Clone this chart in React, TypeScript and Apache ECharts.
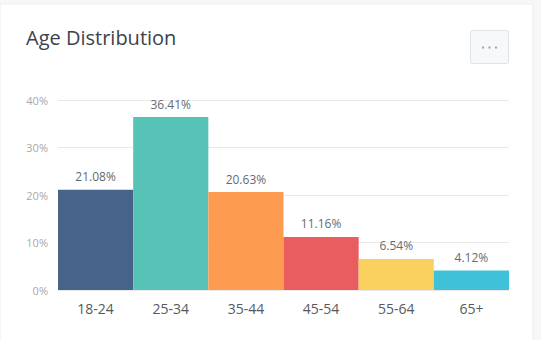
import React, { useEffect, useRef } from "react";
import * as echarts from "echarts";

const categories = ["18-24", "25-34", "35-44", "45-54", "55-64", "65+"];
const values = [21.08, 36.41, 20.63, 11.16, 6.54, 4.12];
const barColors = ["#46648a", "#57c2b6", "#fd9c50", "#e95d61", "#fad05f", "#3fc1da"];
const yTicks = [0, 10, 20, 30, 40];

export default function App() {
  const ref = useRef<HTMLDivElement>(null);
  useEffect(() => {
    if (!ref.current) return;
    const chart = echarts.init(ref.current, null, { renderer: "svg" });
    const dot = (x: number) => ({
      type: "circle",
      shape: { cx: x, cy: 47.5, r: 1.2 },
      style: { fill: "#a3a9b1" },
      silent: true,
    });
    chart.setOption({
      animation: false,
      backgroundColor: "#f7f7f7",
      graphic: [
        {
          type: "rect",
          z: -10,
          shape: { x: 0, y: 4, width: 533, height: 340 },
          style: { fill: "#ffffff", stroke: "#ececec", lineWidth: 1 },
          silent: true,
        },
        {
          type: "rect",
          shape: { x: 470.5, y: 30.5, width: 38, height: 33, r: 2 },
          style: { fill: "#f7f8fa", stroke: "#dfe2e6", lineWidth: 1 },
          silent: true,
        },
        dot(483),
        dot(489.5),
        dot(496),
      ],
      title: {
        text: "Age Distribution",
        left: 21,
        top: 22,
        textStyle: {
          fontFamily: "'Open Sans'",
          fontSize: 20,
          fontWeight: "normal",
          color: "#3b434c",
        },
      },
      grid: { left: 58, right: 32, top: 100, bottom: 50 },
      xAxis: {
        type: "category",
        data: categories,
        axisLine: { show: false },
        axisTick: { show: false },
        axisLabel: {
          fontFamily: "'Open Sans'",
          fontSize: 14,
          color: "#555a60",
          margin: 11,
        },
      },
      yAxis: {
        type: "value",
        min: yTicks[0],
        max: yTicks[yTicks.length - 1],
        interval: 10,
        axisLine: { show: false },
        axisTick: { show: false },
        axisLabel: {
          formatter: "{value}%",
          fontFamily: "'Open Sans'",
          fontSize: 11,
          color: "#a8a8a8",
          margin: 10,
        },
        splitLine: { lineStyle: { color: "#e9e9e9", width: 1 } },
      },
      series: [
        {
          type: "bar",
          barCategoryGap: "0%",
          data: values.map((v, i) => ({ value: v, itemStyle: { color: barColors[i] } })),
          label: {
            show: true,
            position: "top",
            distance: 7,
            formatter: (p: any) => p.value.toFixed(2) + "%",
            fontFamily: "'Open Sans'",
            fontSize: 12,
            color: "#666b70",
          },
        },
      ],
    });
    return () => chart.dispose();
  }, []);
  return (
    <div
      ref={ref}
      style={{ position: "absolute", left: 0, top: 0, width: 541, height: 340 }}
    />
  );
}
